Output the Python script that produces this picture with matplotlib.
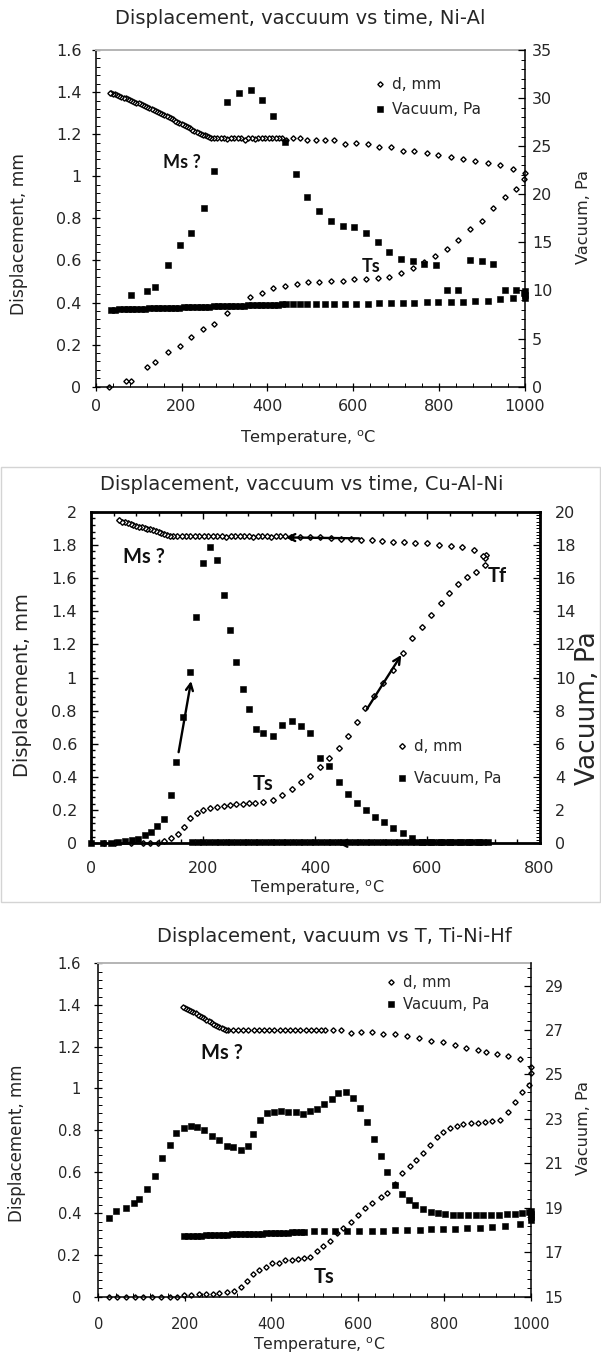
import matplotlib
matplotlib.use("Agg")
import matplotlib.pyplot as plt
from matplotlib.ticker import MultipleLocator, AutoMinorLocator, FuncFormatter
from matplotlib.patches import Rectangle

plt.rcParams["font.family"] = ["DejaVu Sans"]
plt.rcParams["mathtext.default"] = "regular"

W, H = 601, 1355
INK = "#262626"

# ---------------- Ni-Al ----------------
nial_d_heat_T = [31, 70, 83, 119, 139, 168, 196, 222, 251, 276, 305, 359, 387, 414, 441, 468, 495, 521,
                 548, 575, 602, 630, 657, 684, 711, 738, 765, 790, 818, 845, 872, 900, 926, 953, 980, 998]
nial_d_heat = [0.0, 0.029, 0.029, 0.095, 0.119, 0.166, 0.193, 0.235, 0.273, 0.300, 0.352, 0.428, 0.447,
               0.468, 0.479, 0.488, 0.496, 0.496, 0.504, 0.504, 0.512, 0.512, 0.515, 0.523, 0.540, 0.562,
               0.591, 0.619, 0.652, 0.697, 0.751, 0.789, 0.849, 0.900, 0.938, 0.986]
nial_d_cool_T = [1000, 973, 941, 913, 884, 856, 827, 798, 771, 742, 715, 688, 661, 634, 607, 580, 555, 533,
                 512, 493, 475, 459, 443,
                 435, 427, 419, 411, 403, 395, 387, 379, 371, 363, 355, 347, 339, 331, 323, 315, 307, 299,
                 291, 283, 275, 268,
                 265, 260, 255, 250, 245, 240, 235, 230, 225, 220, 215, 210, 205, 200, 195, 190, 185, 180,
                 175, 170, 165, 160, 155, 150, 145, 140, 135, 130, 125, 120, 115, 110, 105, 100, 95, 90,
                 85, 80, 75, 70, 65, 60, 55, 50, 45, 40, 35, 33]
nial_d_cool = [1.017, 1.035, 1.055, 1.065, 1.073, 1.084, 1.092, 1.103, 1.112, 1.122, 1.122, 1.141, 1.141,
               1.151, 1.160, 1.151, 1.170, 1.170, 1.170, 1.170, 1.182, 1.182, 1.173,
               1.180, 1.182, 1.182, 1.182, 1.180, 1.182, 1.182, 1.180, 1.176, 1.182, 1.180, 1.174, 1.180,
               1.182, 1.180, 1.182, 1.176, 1.182, 1.180, 1.182, 1.182, 1.184,
               1.186, 1.192, 1.196, 1.198, 1.202, 1.207, 1.212, 1.216, 1.222, 1.228, 1.232, 1.238, 1.243,
               1.249, 1.254, 1.258, 1.264, 1.270, 1.275, 1.281, 1.286, 1.292, 1.298, 1.302, 1.306, 1.310,
               1.315, 1.319, 1.325, 1.331, 1.336, 1.339, 1.343, 1.347, 1.350, 1.354, 1.358, 1.361, 1.366,
               1.370, 1.374, 1.377, 1.382, 1.386, 1.389, 1.392, 1.396, 1.398]
nial_v_heat_T = [83, 119, 139, 168, 196, 222, 252, 276, 307, 334, 361, 387, 412, 441, 467, 493, 521, 548,
                 575, 602, 629, 657, 684, 711, 738, 765, 792, 818, 845, 872, 900, 926, 953, 980, 998]
nial_v_heat = [9.5, 9.9, 10.4, 12.7, 14.7, 16.0, 18.6, 22.4, 29.6, 30.5, 30.8, 29.8, 28.1, 25.4, 22.1,
               19.7, 18.3, 17.2, 16.7, 16.6, 16.0, 15.0, 14.0, 13.3, 13.1, 12.8, 12.6, 10.0, 10.0, 13.2,
               13.1, 12.8, 10.0, 10.0, 9.7]
nial_v_cool_T = [1000, 1000, 1000, 973, 941, 913, 884, 856, 827, 798, 771, 742, 715, 688, 661, 634, 607,
                 580, 555, 533, 512, 493, 475, 459, 443,
                 435, 425, 415, 405, 395, 385, 375, 365, 355, 345, 335, 325, 315, 305, 295, 285, 275, 265,
                 255, 245, 235, 225, 215, 205, 195, 185, 175, 165, 155, 145, 135, 125, 115, 105, 95, 85,
                 75, 65, 55, 45, 35]
nial_v_cool = [9.9, 9.5, 9.2, 9.25, 9.08, 8.94, 8.9, 8.84, 8.84, 8.77, 8.77, 8.73, 8.73, 8.66, 8.66, 8.6,
               8.6, 8.6, 8.6, 8.6, 8.6, 8.58, 8.58, 8.56, 8.56,
               8.55, 8.54, 8.53, 8.51, 8.50, 8.49, 8.47, 8.46, 8.45, 8.43, 8.42, 8.40, 8.39, 8.38, 8.36,
               8.35, 8.34, 8.32, 8.31, 8.29, 8.28, 8.27, 8.25, 8.24, 8.23, 8.21, 8.20, 8.18, 8.17, 8.16,
               8.14, 8.13, 8.12, 8.10, 8.09, 8.07, 8.06, 8.05, 8.03, 8.02, 8.00]

# ---------------- Cu-Al-Ni ----------------
cual_d_heat_T = [23, 42, 71, 92, 105, 119, 129, 142, 155, 166, 177, 189, 200, 212, 224, 236, 247, 258,
                 270, 281, 293, 307, 325, 341, 358, 375, 391, 408, 424, 442, 458, 475, 489, 504, 521, 538,
                 556, 573, 590, 607, 624, 638, 655, 671, 687, 702]
cual_d_heat = [0, 0, 0, 0, 0, 0.004, 0.014, 0.03, 0.056, 0.10, 0.15, 0.18, 0.20, 0.21, 0.22, 0.227,
               0.231, 0.237, 0.239, 0.241, 0.241, 0.251, 0.261, 0.291, 0.327, 0.368, 0.408, 0.462, 0.513,
               0.573, 0.647, 0.734, 0.818, 0.89, 0.965, 1.045, 1.15, 1.236, 1.306, 1.377, 1.447, 1.511,
               1.562, 1.608, 1.638, 1.678]
cual_d_cool_T = [705, 703, 700, 683, 662, 642, 620, 599, 578, 558, 538, 519, 501, 482, 464, 446, 427, 409,
                 391, 373, 356,
                 345, 337, 329, 321, 313, 305, 297, 289, 281, 273, 265, 257, 249, 241, 233, 225, 217, 209,
                 201, 193, 185, 177, 169, 161, 153, 145,
                 140, 135, 130, 125, 120, 115, 110, 105, 100, 95, 90, 85, 80, 75, 70, 65, 60, 55, 50]
cual_d_cool = [1.74, 1.72, 1.73, 1.769, 1.789, 1.795, 1.799, 1.809, 1.809, 1.815, 1.819, 1.823, 1.829,
               1.829, 1.833, 1.837, 1.839, 1.845, 1.845, 1.849, 1.849,
               1.851, 1.853, 1.851, 1.850, 1.853, 1.851, 1.852, 1.850, 1.853, 1.851, 1.852, 1.851, 1.853,
               1.850, 1.852, 1.851, 1.853, 1.852, 1.851, 1.853, 1.852, 1.851, 1.853, 1.852, 1.853, 1.854,
               1.856, 1.861, 1.866, 1.873, 1.880, 1.885, 1.889, 1.893, 1.897, 1.900, 1.905, 1.910, 1.915,
               1.920, 1.924, 1.930, 1.935, 1.940, 1.948]
cual_v_heat_T = [0, 21, 36, 48, 60, 72, 84, 96, 106, 118, 130, 142, 152, 164, 176, 187, 199, 212, 224, 236,
                 247, 259, 270, 282, 294, 307, 324, 341, 358, 375, 391, 408, 424, 442, 458, 475, 490, 506,
                 523, 538, 556, 573, 590, 607, 624, 641, 658, 675, 692, 708]
cual_v_heat = [0, 0, 0, 0.1, 0.14, 0.2, 0.24, 0.48, 0.7, 1.06, 1.45, 2.91, 4.88, 7.64, 10.35, 13.63, 16.9,
               17.89, 17.09, 15.0, 12.86, 10.91, 9.29, 8.08, 6.87, 6.67, 6.47, 7.14, 7.40, 7.08, 6.67, 5.13,
               4.66, 3.72, 2.95, 2.41, 2.01, 1.57, 1.31, 0.9, 0.6, 0.32, 0.1, 0.05, 0.05, 0.05, 0.05, 0.05,
               0.05, 0.05]
cual_v_cool_T = [700, 690, 680, 670, 660, 650, 640, 630, 620, 610, 600, 590, 580, 570, 560, 550, 540, 530,
                 520, 510, 500, 490, 480, 470, 460, 450, 440, 430, 420, 410, 400, 390, 380, 370, 360, 350,
                 340, 330, 320, 310, 300, 290, 280, 270, 260, 250, 240, 230, 220, 210, 200, 190, 180]
cual_v_cool = [0.06, 0.05, 0.05, 0.06, 0.05, 0.05, 0.06, 0.05, 0.05, 0.06,
               0.05, 0.05, 0.06, 0.05, 0.05, 0.06, 0.05, 0.05, 0.06, 0.05,
               0.05, 0.06, 0.05, 0.05, 0.06, 0.05, 0.05, 0.06, 0.05, 0.05,
               0.06, 0.05, 0.05, 0.06, 0.05, 0.05, 0.06, 0.05, 0.05, 0.06,
               0.05, 0.05, 0.06, 0.05, 0.05, 0.06, 0.05, 0.05, 0.06, 0.05,
               0.05, 0.06, 0.05]

# ---------------- Ti-Ni-Hf ----------------
tinihf_d_heat_T = [25, 44, 64, 85, 104, 125, 145, 165, 182, 199, 215, 233, 249, 265, 280, 298, 314, 329,
                   343, 358, 372, 387, 402, 417, 432, 447, 461, 476, 490, 505, 519, 536, 552, 565, 583, 601,
                   617, 632, 654, 668, 686, 702, 720, 735, 751, 766, 782, 797, 812, 828, 844, 861, 877, 893,
                   911, 929, 947, 964, 979, 995, 1000]
tinihf_d_heat = [0, 0, 0, 0, 0, 0, 0, 0, 0, 0.008, 0.008, 0.011, 0.011, 0.011, 0.019, 0.022, 0.027, 0.048,
                 0.075, 0.107, 0.128, 0.144, 0.16, 0.163, 0.176, 0.176, 0.179, 0.187, 0.192, 0.221, 0.243,
                 0.267, 0.304, 0.328, 0.36, 0.392, 0.424, 0.451, 0.48, 0.5, 0.54, 0.595, 0.627, 0.656, 0.691,
                 0.728, 0.768, 0.789, 0.808, 0.819, 0.829, 0.832, 0.832, 0.837, 0.845, 0.848, 0.888, 0.936,
                 0.982, 1.016, 1.075]
tinihf_d_cool_T = [1000, 975, 947, 922, 897, 877, 850, 824, 797, 768, 742, 714, 686, 659, 632, 608, 583,
                   561, 543, 525,
                   515, 503, 491, 479, 467, 455, 443, 431, 419, 407, 395, 383, 371, 359, 347, 335, 323, 311,
                   300, 295, 290, 285, 280, 275, 270, 265, 260, 255, 250, 245, 240, 235, 230, 225, 220, 215,
                   210, 205, 200, 196]
tinihf_d_cool = [1.1, 1.141, 1.155, 1.165, 1.173, 1.184, 1.192, 1.21, 1.221, 1.227, 1.24, 1.251, 1.261,
                 1.261, 1.272, 1.272, 1.267, 1.28, 1.28, 1.28,
                 1.28, 1.281, 1.28, 1.279, 1.28, 1.281, 1.28, 1.28, 1.279, 1.28, 1.281, 1.28, 1.279, 1.28,
                 1.281, 1.28, 1.28, 1.281,
                 1.281, 1.282, 1.285, 1.288, 1.292, 1.297, 1.304, 1.31, 1.316, 1.323, 1.33, 1.336, 1.342,
                 1.348, 1.354, 1.36, 1.366, 1.371, 1.375, 1.379, 1.384, 1.389]
tinihf_v_heat_T = [25, 40, 64, 83, 95, 113, 131, 147, 165, 180, 198, 214, 229, 245, 263, 279, 297, 312, 329,
                   345, 358, 374, 389, 405, 423, 439, 456, 474, 490, 506, 521, 539, 554, 572, 589, 605, 622,
                   637, 653, 668, 686, 702, 717, 733, 751, 768, 785, 801, 819, 837, 855, 873, 890, 908, 926,
                   944, 962, 979, 995, 1000, 1000, 1000]
tinihf_v_heat = [18.55, 18.84, 19.0, 19.21, 19.4, 19.85, 20.45, 21.24, 21.84, 22.36, 22.61, 22.69, 22.64,
                 22.49, 22.24, 22.04, 21.79, 21.72, 21.6, 21.79, 22.31, 22.94, 23.25, 23.31, 23.36, 23.33,
                 23.31, 23.24, 23.36, 23.46, 23.66, 23.88, 24.15, 24.22, 23.96, 23.48, 22.88, 22.09, 21.34,
                 20.63, 20.04, 19.6, 19.36, 19.13, 18.93, 18.81, 18.76, 18.73, 18.69, 18.69, 18.66, 18.66,
                 18.66, 18.66, 18.69, 18.7, 18.73, 18.76, 18.81, 18.73, 18.85, 18.6]
tinihf_v_cool_T = [1000, 975, 940, 911, 882, 853, 825, 797, 770, 744, 714, 686, 659, 632, 603, 574, 548,
                   521, 499, 476,
                   468, 458, 448, 438, 428, 418, 408, 398, 388, 378, 368, 358, 348, 338, 328, 318, 308, 298,
                   288, 278, 268, 258, 248, 238, 228, 218, 208, 198]
tinihf_v_cool = [18.43, 18.28, 18.18, 18.13, 18.1, 18.09, 18.06, 18.06, 18.03, 18.01, 18.01, 17.99, 17.96,
                 17.96, 17.94, 17.94, 17.96, 17.96, 17.94, 17.91,
                 17.90, 17.90, 17.89, 17.88, 17.88, 17.87, 17.86, 17.86, 17.85, 17.84, 17.84, 17.83, 17.82,
                 17.82, 17.81, 17.80, 17.80, 17.79, 17.78, 17.78, 17.77, 17.76, 17.76, 17.75, 17.74, 17.74,
                 17.73, 17.72]

fig = plt.figure(figsize=(W / 100, H / 100), dpi=100)
general = FuncFormatter(lambda v, p: f"{v:g}")   # Excel "General" number format


def box(l, t, r, b):
    return [l / W, 1 - b / H, (r - l) / W, (b - t) / H]


def ftext(x, y, s, **kw):
    kw.setdefault("color", INK)
    fig.text(x / W, 1 - y / H, s, ha="center", va="center", **kw)


def panel(rect, xlim, ylim, ylim2, ymaj, y2ticks, boxed, lab, pads):
    ax = fig.add_axes(box(*rect))
    axr = ax.twinx()
    ax.set_xlim(*xlim); ax.set_ylim(*ylim); axr.set_ylim(*ylim2)
    ax.xaxis.set_major_locator(MultipleLocator(200))
    ax.yaxis.set_major_locator(MultipleLocator(ymaj))
    axr.set_yticks(y2ticks)
    for a in (ax.xaxis, ax.yaxis, axr.yaxis):
        a.set_minor_locator(AutoMinorLocator(5))
        a.set_major_formatter(general)
    for s in ("top", "left", "bottom"):
        axr.spines[s].set_visible(False)
    ax.spines["right"].set_visible(False)
    if boxed:
        for s in ("top", "left", "bottom"):
            ax.spines[s].set_linewidth(2.0)
        axr.spines["right"].set_linewidth(2.0)
        ax.tick_params(which="both", direction="in", top=True, width=1.0)
        ax.tick_params(which="major", length=5)
        ax.tick_params(which="minor", length=3)
        axr.yaxis.set_minor_locator(AutoMinorLocator(10))
    else:
        ax.spines["top"].set_color("#b4b4b4"); ax.spines["top"].set_linewidth(1.4)
        for s in ("left", "bottom"):
            ax.spines[s].set_linewidth(1.1)
        axr.spines["right"].set_linewidth(1.1)
        ax.tick_params(which="major", direction="inout", length=6, width=0.9)
        ax.tick_params(which="minor", direction="in", length=3, width=0.7)
    axr.tick_params(which="major", direction="in", length=5, width=0.9)
    axr.tick_params(which="minor", direction="in", length=3, width=0.7)
    ax.tick_params(axis="x", labelsize=lab, labelcolor=INK, pad=pads[0])
    ax.tick_params(axis="y", labelsize=lab, labelcolor=INK, pad=pads[1])
    axr.tick_params(axis="y", labelsize=lab, labelcolor=INK, pad=pads[2])
    return ax, axr


def series(ax, axr, dT, d, vT, v, dms, vms):
    hd, = ax.plot(dT, d, ls="none", marker="D", ms=dms, mfc="white", mec="black", mew=1.0, clip_on=False)
    hv, = axr.plot(vT, v, ls="none", marker="s", ms=vms, mfc="black", mec="black", mew=0.4, clip_on=False)
    return hd, hv


def legend(handles, x, y, fs, spacing):
    fig.legend(handles, ["d, mm", "Vacuum, Pa"], loc="upper left", bbox_to_anchor=(x / W, 1 - y / H),
               frameon=False, fontsize=fs, handlelength=0.8, handletextpad=0.4, labelspacing=spacing,
               borderpad=0, borderaxespad=0, labelcolor=INK)


TLAB = "Temperature, $^{o}$C"
NOTE = dict(family=["Lato", "DejaVu Sans"], weight="bold", color="#111111")

# ---- panel 1: Ni-Al ----
ax1, ax1r = panel((95.7, 50, 525, 386.7), (0, 1000), (0, 1.6), (0, 35), 0.2, list(range(0, 36, 5)),
                  False, 11.5, (6.0, 7.4, 5))
h1 = series(ax1, ax1r, nial_d_heat_T + nial_d_cool_T, nial_d_heat + nial_d_cool,
            nial_v_heat_T + nial_v_cool_T, nial_v_heat + nial_v_cool, 2.7, 3.8)
ftext(300, 19, "Displacement, vaccuum vs time, Ni-Al", fontsize=14)
ftext(19, 234, "Displacement, mm", fontsize=12.3, rotation=90)
ftext(584, 217, "Vacuum, Pa", fontsize=11.6, rotation=90)
ftext(308, 438, TLAB, fontsize=11.7)
legend(h1, 374, 77, 11, 0.65)
ftext(182, 162, "Ms ?", fontsize=13, **NOTE)
ftext(371, 267, "Ts", fontsize=13, **NOTE)

# ---- panel 2: Cu-Al-Ni ----
fig.add_artist(Rectangle((1 / W, 1 - 902 / H), 599 / W, 435 / H, transform=fig.transFigure,
                         fill=False, ec="#d4d4d4", lw=1))
ax2, ax2r = panel((91.3, 511.7, 539.5, 843.3), (0, 800), (0, 2), (0, 20), 0.2, list(range(0, 21, 2)),
                  True, 11.5, (13, 10.3, 11.2))
h2 = series(ax2, ax2r, cual_d_heat_T + cual_d_cool_T, cual_d_heat + cual_d_cool,
            cual_v_heat_T + cual_v_cool_T, cual_v_heat + cual_v_cool, 2.9, 4.0)
arrow = dict(arrowstyle="->,head_length=0.5,head_width=0.25", lw=1.7, color="black")
for start, end in [((155, 0.533), (179, 0.995)), ((489, 0.794), (556, 1.15)),
                   ((483, 1.839), (342, 1.845)), ((477, 0.0), (435, 0.0))]:
    ax2r.annotate("", xy=(end[0], end[1] * 10), xytext=(start[0], start[1] * 10), arrowprops=arrow,
                  annotation_clip=False)
ftext(302, 485, "Displacement, vaccuum vs time, Cu-Al-Ni", fontsize=14)
ftext(23, 685, "Displacement, mm", fontsize=14, rotation=90)
ftext(588, 708, "Vacuum, Pa", fontsize=19, rotation=90)
ftext(317, 888, TLAB, fontsize=11.5)
legend(h2, 396, 739, 10.8, 1.15)
ftext(144, 557, "Ms ?", fontsize=14.5, **NOTE)
ftext(497, 576, "Tf", fontsize=14.5, **NOTE)
ftext(263, 784, "Ts", fontsize=14.5, **NOTE)

# ---- panel 3: Ti-Ni-Hf ----
ax3, ax3r = panel((98.3, 963.3, 531, 1296.7), (0, 1000), (0, 1.6), (15, 30), 0.2, list(range(15, 30, 2)),
                  False, 10.6, (11.4, 9.4, 10))
h3 = series(ax3, ax3r, tinihf_d_heat_T + tinihf_d_cool_T, tinihf_d_heat + tinihf_d_cool,
            tinihf_v_heat_T + tinihf_v_cool_T, tinihf_v_heat + tinihf_v_cool, 2.7, 3.8)
ftext(334, 937, "Displacement, vacuum vs T, Ti-Ni-Hf", fontsize=14)
ftext(17, 1143, "Displacement, mm", fontsize=12, rotation=90)
ftext(584, 1128, "Vacuum, Pa", fontsize=11.6, rotation=90)
ftext(319, 1345, TLAB, fontsize=11.3)
legend(h3, 385, 975, 10.6, 0.48)
ftext(222, 1053, "Ms ?", fontsize=14.5, **NOTE)
ftext(324, 1277, "Ts", fontsize=14.5, **NOTE)

fig.savefig("out.png", dpi=100)
